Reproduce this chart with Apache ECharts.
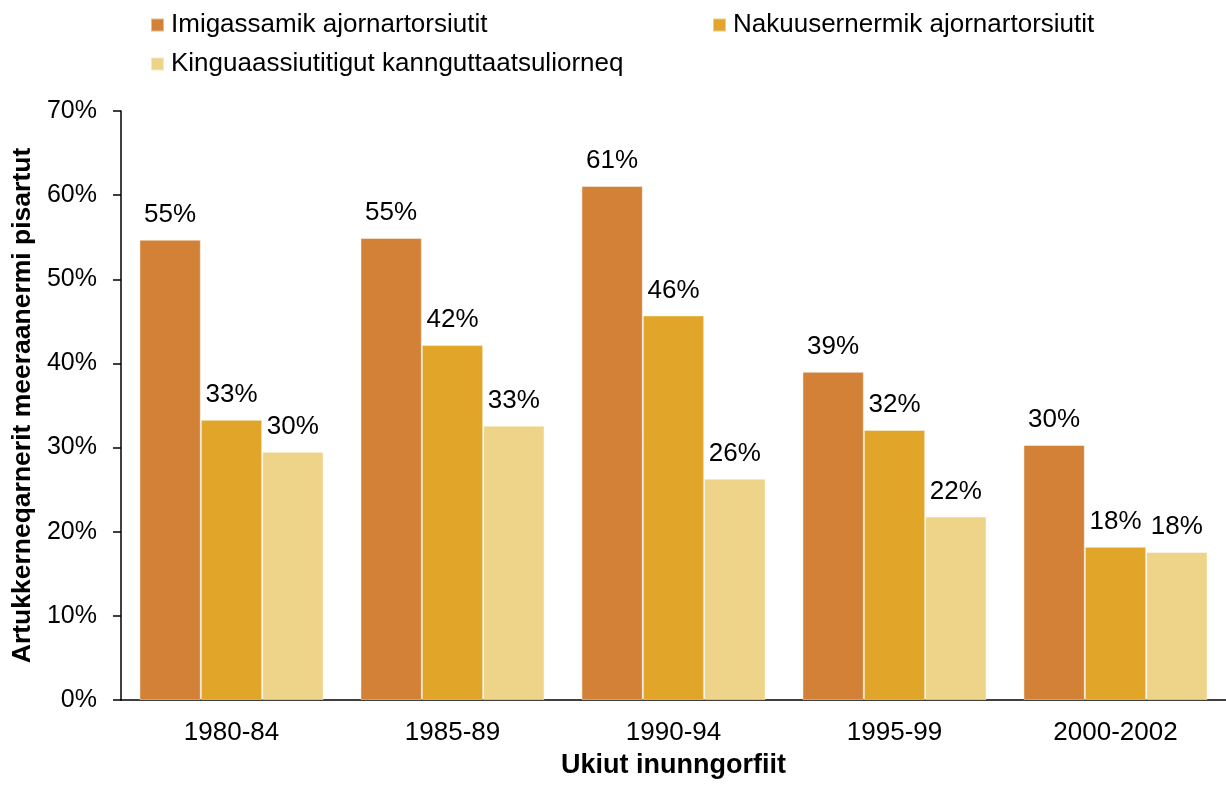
<!DOCTYPE html>
<html>
<head>
<meta charset="utf-8">
<script src="https://cdn.jsdelivr.net/npm/echarts@6/dist/echarts.min.js"></script>
<style>
  html, body { margin: 0; padding: 0; background: #ffffff; overflow: hidden; }
  #chart { width: 1226px; height: 785px; }
</style>
</head>
<body>
<div id="chart"></div>
<script>
// Periods of birth
const categories = ['1980-84', '1985-89', '1990-94', '1995-99', '2000-2002'];

// Share (%) per series and period
const seriesNames = [
  'Imigassamik ajornartorsiutit',
  'Nakuusernermik ajornartorsiutit',
  'Kinguaassiutitigut kannguttaatsuliorneq'
];
const alcoholValues  = [54.7, 54.9, 61.1, 39.0, 30.3];
const violenceValues = [33.3, 42.2, 45.7, 32.1, 18.2];
const abuseValues    = [29.5, 32.6, 26.3, 21.8, 17.6];

const seriesColors = ['#D38136', '#E0A529', '#EED488'];

const yTicks = { min: 0, max: 70, interval: 10 };

const FONT = '"Liberation Sans", Arial, sans-serif';

const chart = echarts.init(document.getElementById('chart'), null, { renderer: 'canvas' });

const valueSets = [alcoholValues, violenceValues, abuseValues];

// One legend block per entry so the entries sit in two columns
function legendItem(idx, left, top) {
  return {
    data: [seriesNames[idx]],
    left: left,
    top: top,
    icon: 'rect',
    itemWidth: 13,
    itemHeight: 13,
    itemGap: 0,
    padding: 0,
    selectedMode: false,
    textStyle: { fontFamily: FONT, fontSize: 26, color: '#000', padding: [0, 0, 0, 2] }
  };
}

chart.setOption({
  animation: false,
  textStyle: { fontFamily: FONT },
  legend: [
    legendItem(0, 150, 12),
    legendItem(1, 712, 12),
    legendItem(2, 150, 51)
  ],
  grid: { left: 121, right: 0, top: 111, bottom: 85, containLabel: false },
  xAxis: {
    type: 'category',
    data: categories,
    name: 'Ukiut inunngorfiit',
    nameLocation: 'middle',
    nameGap: 52,
    nameTextStyle: { fontFamily: FONT, fontSize: 27, fontWeight: 'bold', color: '#000' },
    axisLine: { show: true, lineStyle: { color: '#000', width: 1.5 } },
    axisTick: { show: false },
    axisLabel: { fontFamily: FONT, fontSize: 26, color: '#000', margin: 20 }
  },
  yAxis: {
    type: 'value',
    min: yTicks.min,
    max: yTicks.max,
    interval: yTicks.interval,
    name: 'Artukkerneqarnerit meeraanermi pisartut',
    nameLocation: 'middle',
    nameGap: 80,
    nameTextStyle: { fontFamily: FONT, fontSize: 26.5, fontWeight: 'bold', color: '#000' },
    axisLine: { show: true, lineStyle: { color: '#000', width: 1.5 } },
    axisTick: { show: true, inside: false, length: 8, lineStyle: { color: '#000', width: 1.5 } },
    splitLine: { show: false },
    axisLabel: { fontFamily: FONT, fontSize: 25, color: '#000', margin: 24, formatter: '{value}%' }
  },
  series: valueSets.map((vals, i) => ({
    name: seriesNames[i],
    type: 'bar',
    data: vals,
    barGap: '0%',
    barCategoryGap: '16.7%',
    itemStyle: {
      color: seriesColors[i],
      borderColor: 'rgba(255,255,255,0.45)',
      borderWidth: 1
    },
    label: {
      show: true,
      position: 'top',
      distance: 12,
      fontFamily: FONT,
      fontSize: 26,
      color: '#000',
      formatter: p => Math.round(p.value) + '%'
    }
  }))
});
</script>
</body>
</html>
